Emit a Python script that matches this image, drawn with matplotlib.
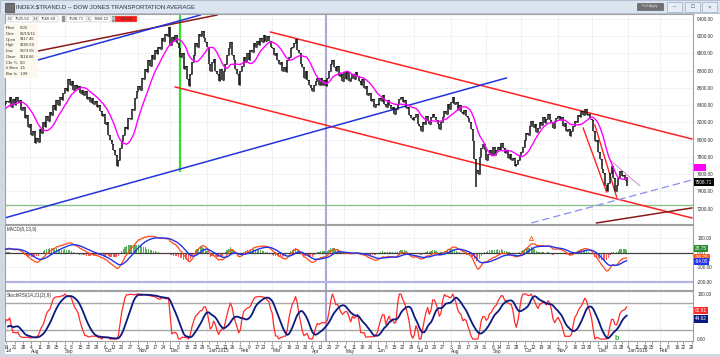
import numpy as np
import pandas as pd
import matplotlib.pyplot as plt
from matplotlib.patches import Rectangle
from matplotlib.transforms import blended_transform_factory

plt.rcParams['font.family'] = ['Liberation Sans', 'DejaVu Sans']

# daily closes of $TRAN, month by month
# (Jun 2 .. Jul 14 2014 sit left of the visible window and only warm up the indicators)
closes_jun14 = [8150, 8170, 8185, 8210, 8240, 8255, 8230, 8200, 8185, 8210, 8235, 8260, 8290, 8275, 8250, 8230, 8260, 8280, 8300, 8320, 8310]
closes_jul14a = [8350, 8380, 8420, 8390, 8340, 8360, 8400, 8430, 8450]
closes_jul14 = [8440, 8500, 8380, 8470, 8400, 8500, 8440, 8460, 8350, 8380, 8250, 8290, 8150]
closes_aug14 = [8180, 8060, 8100, 7960, 8020, 7970, 8120, 8080, 8200, 8150, 8280, 8220, 8320, 8290, 8400, 8340, 8460, 8400, 8500, 8460, 8540]
closes_sep14 = [8600, 8560, 8700, 8640, 8680, 8580, 8640, 8590, 8620, 8540, 8580, 8520, 8560, 8470, 8500, 8440, 8480, 8410, 8450, 8380, 8400]
closes_oct14 = [8330, 8280, 8300, 8180, 8200, 8060, 8000, 7950, 7880, 7820, 7700, 7760, 7900, 7980, 8050, 8150, 8130, 8250, 8240, 8360, 8340, 8480, 8560]
closes_nov14 = [8620, 8580, 8720, 8700, 8820, 8780, 8920, 8860, 8980, 8940, 9040, 8990, 9080, 9050, 9180, 9140, 9230, 9200, 9310]
closes_dec14 = [9100, 9190, 9150, 9220, 9120, 9060, 8960, 9000, 8820, 8860, 8700, 8620, 8760, 8900, 8980, 9120, 9080, 9230, 9200, 9260, 9180, 9130]
closes_jan15 = [9080, 8880, 8800, 8900, 8940, 8800, 8760, 8680, 8820, 8690, 8800, 8880, 8980, 9060, 9130, 8980, 8920, 8820, 8760, 8640]
closes_feb15 = [8800, 8860, 8960, 8900, 9000, 8920, 9040, 9020, 9120, 9080, 9140, 9100, 9180, 9130, 9220, 9150, 9200, 9140, 9080]
closes_mar15 = [9060, 8980, 9010, 8920, 8880, 8900, 8800, 8840, 8780, 8920, 8960, 9060, 9080, 9118.66, 9170, 9040, 9000, 8880, 8840, 8720, 8800, 8690]
closes_apr15 = [8640, 8600, 8560, 8640, 8680, 8720, 8640, 8720, 8630, 8690, 8620, 8720, 8800, 8880, 8920, 8840, 8800, 8850, 8740, 8760, 8680]
closes_may15 = [8780, 8700, 8790, 8680, 8720, 8760, 8700, 8780, 8740, 8680, 8640, 8700, 8600, 8620, 8520, 8540, 8450, 8470, 8380, 8420]
closes_jun15 = [8400, 8480, 8450, 8520, 8420, 8380, 8460, 8400, 8360, 8380, 8300, 8360, 8420, 8470, 8500, 8440, 8460, 8370, 8380, 8290, 8250, 8230]
closes_jul15 = [8260, 8300, 8180, 8160, 8100, 8200, 8180, 8280, 8220, 8180, 8260, 8300, 8260, 8230, 8180, 8130, 8200, 8260, 8330, 8300, 8420, 8360]
closes_aug15 = [8440, 8500, 8420, 8440, 8340, 8400, 8320, 8300, 8340, 8280, 8250, 8200, 8120, 7980, 7780, 7650, 7600, 7800, 7900, 7950, 7880]
closes_sep15 = [7760, 7840, 7880, 7820, 7920, 7820, 7880, 7920, 7880, 7960, 7910, 7850, 7880, 7790, 7840, 7760, 7790, 7700, 7720, 7760, 7820]
closes_oct15 = [7860, 7920, 8000, 8080, 8060, 8160, 8220, 8150, 8180, 8090, 8140, 8200, 8170, 8260, 8190, 8240, 8300, 8230, 8210, 8140, 8220, 8250]
closes_nov15 = [8280, 8230, 8260, 8160, 8190, 8100, 8130, 8040, 8100, 8160, 8220, 8200, 8290, 8260, 8330, 8290, 8360, 8290, 8300, 8240]
closes_dec15 = [8230, 8100, 7980, 8000, 7860, 7780, 7660, 7620, 7480, 7400, 7500, 7620, 7700, 7560, 7400, 7470, 7560, 7640, 7580, 7590, 7530, 7508.71]

closes = (closes_jun14 + closes_jul14a + closes_jul14 + closes_aug14 + closes_sep14 + closes_oct14
          + closes_nov14 + closes_dec14 + closes_jan15 + closes_feb15 + closes_mar15 + closes_apr15
          + closes_may15 + closes_jun15 + closes_jul15 + closes_aug15 + closes_sep15 + closes_oct15
          + closes_nov15 + closes_dec15)

# a few intraday extremes that stick out of the bars
spike_lows = {'2014-10-15': 7690, '2015-08-24': 7450}
last_ohlc = [7525.52, 7566.69, 7468.12, 7508.71]

holidays = ['2014-07-04', '2014-09-01', '2014-11-27', '2014-12-25', '2015-01-01', '2015-01-19',
            '2015-02-16', '2015-04-03', '2015-05-25', '2015-07-03', '2015-09-07', '2015-11-26',
            '2015-12-25', '2016-01-01', '2016-01-18', '2016-02-15']

# drawn trend lines: (start date, start price, end date, end price)
trend_brown_top = ('2014-08-08', 9029, '2015-01-12', 9446)
trend_blue_top = ('2014-08-08', 8925, '2014-12-26', 9446)
trend_red_upper = ('2015-02-27', 9249, '2016-02-29', 8009)
trend_red_lower = ('2014-12-04', 8612, '2016-02-29', 7093)
trend_blue_long = ('2014-07-11', 7093, '2015-09-18', 8716)
trend_dashed = ('2015-10-09', 7035, '2016-02-29', 7533)
trend_brown_low = ('2015-12-04', 7035, '2016-02-29', 7209)
trend_red_a = ('2015-11-23', 8136, '2015-12-14', 7394)
trend_red_b = ('2015-12-03', 8171, '2015-12-22', 7336)
trend_pink = ('2015-12-16', 7765, '2016-01-13', 7464)
green_level = 7243
green_day = '2014-12-09'
cursor_day = '2015-04-16'

# right-hand value tags
macd_tags = [25.75, -36.25, -64.00]
stoch_tags = [62.81, 44.62]

# ---------------------------------------------------------------
days = pd.bdate_range('2014-06-02', '2016-03-04')
days = days[~days.isin(pd.to_datetime(holidays))]
pos = {d: i for i, d in enumerate(days)}
def di(s):
    return pos[pd.Timestamp(s)]

c = pd.Series(closes, dtype=float)
n = len(c)
x = np.arange(n)
o = c.shift(1).fillna(c.iloc[0])
o.iloc[-1] = last_ohlc[0]
hi = np.maximum(o, c)
lo = np.minimum(o, c)
hi.iloc[-1] = last_ohlc[1]
lo.iloc[-1] = last_ohlc[2]
for d, v in spike_lows.items():
    lo.iloc[di(d)] = v
ma = c.rolling(12).mean()

macd = c.ewm(span=8, adjust=False).mean() - c.ewm(span=13, adjust=False).mean()
sig = macd.ewm(span=9, adjust=False).mean()
hist = macd - sig

delta = c.diff()
gain = delta.clip(lower=0).ewm(alpha=1 / 14, adjust=False).mean()
loss = (-delta.clip(upper=0)).ewm(alpha=1 / 14, adjust=False).mean()
rsi = 100 - 100 / (1 + gain / loss)
rmin = rsi.rolling(21).min()
rmax = rsi.rolling(21).max()
stoch = ((rsi - rmin) / (rmax - rmin) * 100).rolling(2).mean()
stoch_sig = stoch.rolling(9).mean()

W, H = 720, 357
fig = plt.figure(figsize=(W / 100, H / 100), dpi=100, facecolor='white')

def box(x0, y0, x1, y1):
    return [x0 / W, 1 - y1 / H, (x1 - x0) / W, (y1 - y0) / H]

x_left = di('2014-07-15') - 3 / 1.672
x_right = x_left + 688 / 1.672

ax = fig.add_axes(box(5, 14, 693, 224))
ax2 = fig.add_axes(box(5, 225, 693, 290), sharex=ax)
ax3 = fig.add_axes(box(5, 291, 693, 341), sharex=ax)

month_starts = [i for i in range(1, len(days)) if days[i].month != days[i - 1].month]
for a in (ax, ax2, ax3):
    a.set_xlim(x_left, x_right)
    for sp in a.spines.values():
        sp.set_color('#a0a0a0')
        sp.set_linewidth(0.8)
    a.yaxis.tick_right()
    a.tick_params(axis='y', length=0, pad=3, labelsize=3.4, labelcolor='#303030')
    for m in month_starts:
        a.axvline(m, color='#c8c8c8', lw=0.5, ls=(0, (1, 2)), zorder=0)
    a.axvline(di(cursor_day), color='#a8a8dc', lw=1.5, zorder=1)

# ---- price panel
ax.set_ylim(7023, 9458)
ax.set_yticks(np.arange(7200, 9401, 200))
ax.yaxis.set_major_formatter(plt.FormatStrFormatter('%.2f'))
ax.grid(axis='y', color='#c8c8c8', lw=0.5, ls=(0, (1, 2)))
ax.tick_params(axis='x', bottom=False, labelbottom=False)
ax.axhline(green_level, color='#8cc08c', lw=1)
ax.vlines(di(green_day), 7626, 9458, color='#33dd33', lw=1.6, zorder=2)

def tl(t, **kw):
    ax.plot([di(t[0]), di(t[2])], [t[1], t[3]], **kw)

tl(trend_brown_top, color='#8b1a1a', lw=1.1)
tl(trend_blue_top, color='#2233dd', lw=1.1)
tl(trend_red_upper, color='#ff2222', lw=1.1)
tl(trend_red_lower, color='#ff2222', lw=1.1)
tl(trend_blue_long, color='#2233dd', lw=1.1)
tl(trend_dashed, color='#8890f0', lw=0.9, ls=(0, (6, 3)))
tl(trend_brown_low, color='#8b1a1a', lw=1.1)
tl(trend_red_a, color='#ff2222', lw=1.0)
tl(trend_red_b, color='#ff2222', lw=1.0)
tl(trend_pink, color='#d08ad0', lw=0.7)

ax.vlines(x, lo, hi, color='#141414', lw=1.1, zorder=3)
ax.hlines(o, x - 0.5, x, color='#141414', lw=0.8, zorder=3)
ax.hlines(c, x, x + 0.5, color='#141414', lw=0.8, zorder=3)
ax.plot(x, ma, color='#ff00ff', lw=1.0, zorder=4)

tr = blended_transform_factory(ax.transAxes, ax.transData)
ax.text(1.003, last_ohlc[3] + 170, '       ', transform=tr, fontsize=3.4, va='center', ha='left',
        bbox=dict(boxstyle='square,pad=0.25', fc='#ff00ff', ec='none'))
ax.text(1.003, last_ohlc[3], '%.2f' % last_ohlc[3], transform=tr, fontsize=3.4, va='center', ha='left',
        color='white', bbox=dict(boxstyle='square,pad=0.25', fc='black', ec='none'))

# ---- MACD panel
ax2.set_ylim(-258.6, 189.7)
ax2.set_yticks([100, 0, -100, -200])
ax2.yaxis.set_major_formatter(plt.FormatStrFormatter('%.2f'))
ax2.tick_params(axis='x', bottom=False, labelbottom=False)
ax2.grid(axis='y', color='#c8c8c8', lw=0.5, ls=(0, (1, 2)))
ax2.axhline(-200, color='#b4b4e6', lw=1.6)
ax2.bar(x, hist.where(hist > 0, 0), width=0.7, color='#5cae5c', zorder=2)
ax2.bar(x, hist.where(hist < 0, 0), width=0.7, color='#ff5a5a', zorder=2)
ax2.axhline(0, color='#404040', lw=0.9, zorder=3)
ax2.plot(x, macd, color='#ff4a1a', lw=0.9, zorder=4)
ax2.plot(x, sig, color='#2233ee', lw=1.0, zorder=4)
ax2.plot(di('2015-10-09'), 100, marker='^', mfc='none', mec='#ff6a20', ms=3, mew=0.7)
ax2.text(0.003, 0.97, 'MACD(8,13,9)', transform=ax2.transAxes, fontsize=3.4, va='top', color='#303030')
tr2 = blended_transform_factory(ax2.transAxes, ax2.transData)
for v, col in zip(macd_tags, ['#2e8b2e', '#ff5a1a', '#2233ee']):
    ax2.text(1.003, v, '%.2f' % v, transform=tr2, fontsize=3.4, va='center', ha='left', color='white',
             bbox=dict(boxstyle='square,pad=0.25', fc=col, ec='none'))

# ---- StochRSI panel
ax3.set_ylim(-4.4, 106.7)
ax3.set_yticks([100, 0])
ax3.yaxis.set_major_formatter(plt.FormatStrFormatter('%.2f'))
ax3.axhline(80, color='#a8a8a8', lw=1.0)
ax3.axhline(20, color='#a8a8a8', lw=1.0)
ax3.plot(x, stoch, color='#ff2a2a', lw=0.9, zorder=4)
ax3.plot(x, stoch_sig, color='#0a1a80', lw=1.3, zorder=4)
ax3.text(di('2015-12-22'), 1, 'b', fontsize=5, color='#22aa22', fontweight='bold', ha='center', va='center')
ax3.text(0.003, 0.97, 'StochRSI(14,21(2),9)', transform=ax3.transAxes, fontsize=3.4, va='top', color='#303030')
tr3 = blended_transform_factory(ax3.transAxes, ax3.transData)
for v, col in zip(stoch_tags, ['#ff2a2a', '#0a1a80']):
    ax3.text(1.003, v, '%.2f' % v, transform=tr3, fontsize=3.4, va='center', ha='left', color='white',
             bbox=dict(boxstyle='square,pad=0.25', fc=col, ec='none'))

# date axis: first trading day of each week, month names under them
week_starts = [i for i in range(1, len(days)) if days[i].weekday() < days[i - 1].weekday()]
week_starts = [i for i in week_starts if x_left < i < x_right]
ax3.set_xticks(week_starts)
ax3.set_xticklabels([str(days[i].day) for i in week_starts])
ax3.tick_params(axis='x', length=2, width=0.5, color='#808080', labelsize=3.4, pad=0.8, labelcolor='#303030')
seen = set()
for i in week_starts:
    key = (days[i].year, days[i].month)
    if key in seen:
        continue
    seen.add(key)
    name = days[i].strftime('%b')
    if days[i].month == 1:
        name += ' ' + str(days[i].year)
    ax3.text(i, -0.15, name, transform=blended_transform_factory(ax3.transData, ax3.transAxes),
             fontsize=3.4, ha='left', va='top', color='#303030')

# ---- window chrome
fig.patches.append(Rectangle((0, 1 - 13 / H), 1, 13 / H, transform=fig.transFigure, fc='#dbe4ef', ec='#a9b8cc', lw=0.6))
fig.patches.append(Rectangle((0, 0), 5 / W, 1 - 13 / H, transform=fig.transFigure, fc='#d0d8e4', ec='none'))
fig.patches.append(Rectangle((0, 0), 1, 3 / H, transform=fig.transFigure, fc='#d0d8e4', ec='none'))
fig.patches.append(Rectangle((5 / W, 1 - 12 / H), 9 / W, 9 / H, transform=fig.transFigure, fc='#707070', ec='#404040', lw=0.5))
fig.text(16 / W, 1 - 6.5 / H, 'INDEX:$TRAND,D -- DOW JONES TRANSPORTATION AVERAGE', fontsize=4.3,
         va='center', color='#2a3048')
fig.patches.append(Rectangle((637 / W, 1 - 10 / H), 26 / W, 7 / H, transform=fig.transFigure, fc='#707070', ec='#505050', lw=0.4))
fig.text(650 / W, 1 - 6.5 / H, 'Full Apply', fontsize=2.6, ha='center', va='center', color='#e0e0e0')
for bx, sym in [(667, '\u2013'), (685, '\u25a1'), (702, '\u00d7')]:
    fig.patches.append(Rectangle((bx / W, 1 - 12 / H), 15 / W, 10 / H, transform=fig.transFigure,
                                 fc='#e6edf6', ec='#a0aec0', lw=0.5))
    fig.text((bx + 7.5) / W, 1 - 7 / H, sym, fontsize=4.5, ha='center', va='center', color='#505a6a')

# quote strip
strip = [(8, 3, 'O', 'white', '#303030'), (12, 21, '%.2f' % last_ohlc[0], 'white', '#303030'),
         (34, 3, 'H', 'white', '#303030'), (38, 20, '%.2f' % last_ohlc[1], 'white', '#303030'),
         (62, 3, '', '#909090', '#303030'), (66, 20, '%.2f' % last_ohlc[3], 'white', '#303030'),
         (87, 3, 'L', 'white', '#303030'), (91, 20, '%.2f' % last_ohlc[2], 'white', '#303030'),
         (112, 3, 'N', '#909090', 'white'), (115, 22, '-28.69', '#ff1a1a', '#303030')]
for sx, sw, txt, fc, tc in strip:
    fig.patches.append(Rectangle((sx / W, 1 - 22 / H), sw / W, 6 / H, transform=fig.transFigure,
                                 fc=fc, ec='#b0b0b0', lw=0.3, zorder=5))
    fig.text((sx + sw / 2) / W, 1 - 19 / H, txt, fontsize=3.1, ha='center', va='center', color=tc, zorder=6)

# data window
fig.patches.append(Rectangle((4 / W, 1 - 78 / H), 34 / W, 54 / H, transform=fig.transFigure,
                             fc='#fdf8ec', ec='none', alpha=0.92, zorder=5))
info = [('Price', '0.00'), ('Date', '03/19/15'), ('Open', '9117.46'), ('High', '9165.59'),
        ('Low', '9073.65'), ('Close', '9118.66'), ('Chr %', '0.0'), ('# Bars', '-15'), ('Bar Ix', '-199')]
for k, (lab, val) in enumerate(info):
    yy = 1 - (28 + k * 5.75) / H
    fig.text(6 / W, yy, lab, fontsize=3.0, va='center', color='#303030', zorder=6)
    fig.text(20 / W, yy, val, fontsize=3.0, va='center', color='#303030', zorder=6)

fig.savefig('out.png', dpi=100, facecolor='white')
